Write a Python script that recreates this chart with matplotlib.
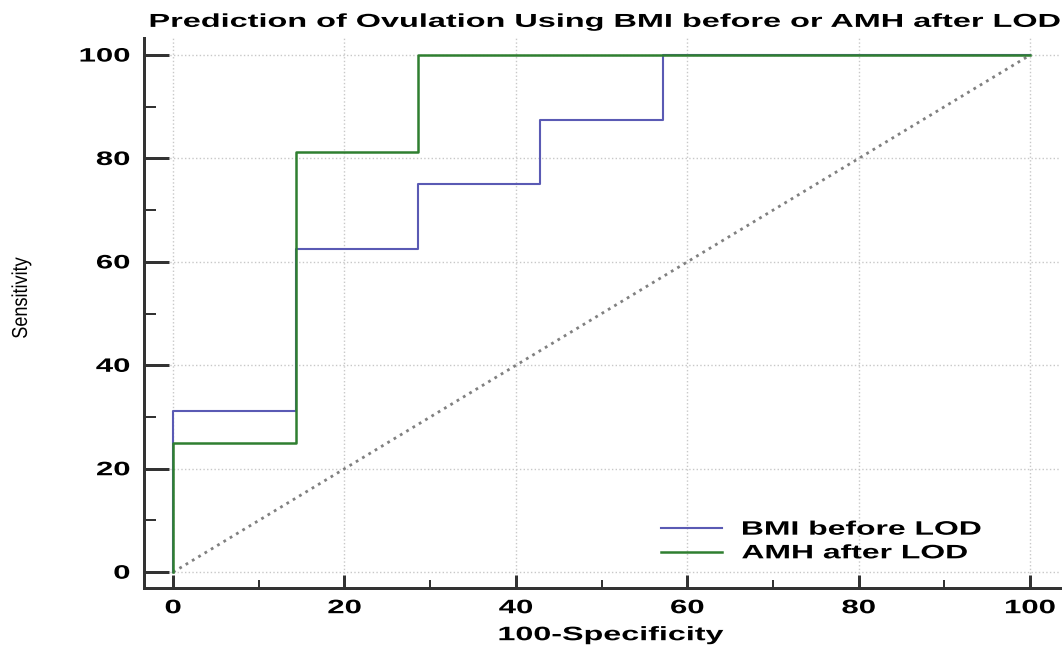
import matplotlib
matplotlib.use('Agg')
import matplotlib.pyplot as plt
from matplotlib.patheffects import AbstractPathEffect
from matplotlib.transforms import Affine2D
from matplotlib.ticker import MultipleLocator

# ROC step points (100-Specificity, Sensitivity)
bmi_x = [0, 0, 14.29, 14.29, 28.57, 28.57, 42.86, 42.86, 57.14, 57.14, 100]
bmi_y = [0, 31.25, 31.25, 62.5, 62.5, 75, 75, 87.5, 87.5, 100, 100]

amh_x = [0, 0, 14.29, 14.29, 28.57, 28.57, 100]
amh_y = [0, 25, 25, 81.25, 81.25, 100, 100]

ref_x = [0, 100]
ref_y = [0, 100]


class Widen(AbstractPathEffect):
    # stretch glyphs along the text direction, keeping the given anchor fixed
    def __init__(self, sx, anchor='center'):
        super().__init__()
        self.sx = sx
        self.anchor = anchor

    def draw_path(self, renderer, gc, tpath, affine, rgbFace=None):
        ext = tpath.get_extents()
        if self.anchor == 'left':
            c = ext.x0
        elif self.anchor == 'right':
            c = ext.x1
        else:
            c = (ext.x0 + ext.x1) / 2
        pre = Affine2D().translate(-c, 0).scale(self.sx, 1).translate(c, 0)
        renderer.draw_path(gc, tpath, pre + affine, rgbFace)


plt.rcParams['font.family'] = ['Liberation Sans', 'DejaVu Sans']
px = 72 / 100  # points per pixel

fig = plt.figure(figsize=(10.64, 6.55), dpi=100)
ax = fig.add_axes([0.1353, 0.102, 0.861, 0.840])

ax.plot(ref_x, ref_y, color='#808080', linestyle=':', linewidth=2)
ax.plot(bmi_x, bmi_y, color='#5a5ab4', linewidth=1.5, label='BMI before LOD')
ax.plot(amh_x, amh_y, color='#2f7f30', linewidth=1.8, label='AMH after LOD')

ax.set_xlim(-3.4, 103.5)
ax.set_ylim(-3.1, 103.3)

ax.xaxis.set_major_locator(MultipleLocator(20))
ax.xaxis.set_minor_locator(MultipleLocator(10))
ax.yaxis.set_major_locator(MultipleLocator(20))
ax.yaxis.set_minor_locator(MultipleLocator(10))

ax.grid(True, which='major', color='#c8c8c8', linestyle=':', linewidth=1)

for s in ['top', 'right']:
    ax.spines[s].set_visible(False)
for s in ['left', 'bottom']:
    ax.spines[s].set_linewidth(3 * px)
    ax.spines[s].set_color('#333333')

ax.tick_params(which='both', direction='in', color='#333333')
ax.tick_params(axis='x', which='major', length=13 * px, width=3 * px, labelsize=14, pad=12 * px)
ax.tick_params(axis='x', which='minor', length=8 * px, width=2 * px)
ax.tick_params(axis='y', which='major', length=25 * px, width=3 * px, labelsize=14, pad=14 * px)
ax.tick_params(axis='y', which='minor', length=12 * px, width=2 * px)

for lab in ax.get_xticklabels():
    lab.set_fontweight('bold')
    lab.set_path_effects([Widen(1.6, 'center')])
for lab in ax.get_yticklabels():
    lab.set_fontweight('bold')
    lab.set_path_effects([Widen(1.6, 'right')])

title = ax.set_title('Prediction of Ovulation Using BMI before or AMH after LOD',
                     fontsize=13.5, fontweight='bold', pad=8)
title.set_path_effects([Widen(1.73, 'center')])
title.set_x(0.503)

xl = ax.set_xlabel('100-Specificity', fontsize=14, fontweight='bold', labelpad=10 * px)
xl.set_path_effects([Widen(1.66, 'center')])
xl.set_x(0.5098)

yl = ax.set_ylabel('Sensitivity', fontsize=15.5)
yl.set_path_effects([Widen(0.84, 'center')])
ax.yaxis.set_label_coords(-0.1223, 0.527)

leg = ax.legend(loc='upper left', bbox_to_anchor=(0.5644, 0.122), frameon=False,
                prop={'size': 14, 'weight': 'bold'}, handlelength=3.15, handletextpad=1.0,
                labelspacing=0.31, borderpad=0, borderaxespad=0)
for t in leg.get_texts():
    t.set_path_effects([Widen(1.64, 'left')])

fig.savefig('out.png', dpi=100)
